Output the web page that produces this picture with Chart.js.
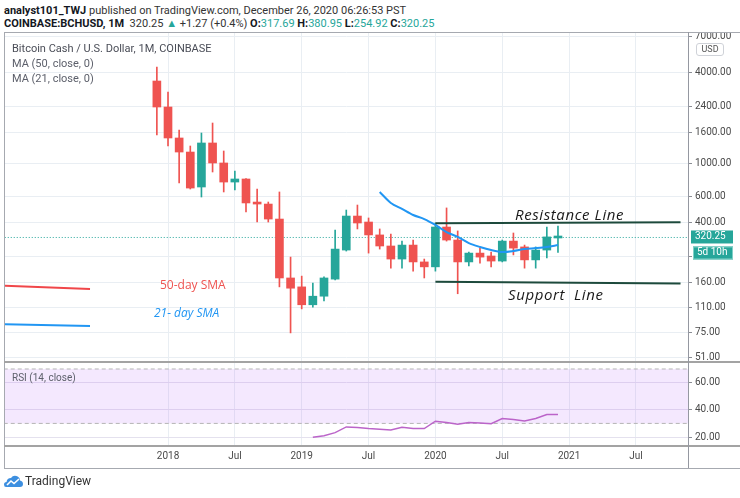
<!DOCTYPE html>
<html>
<head>
<meta charset="utf-8">
<script src="https://cdn.jsdelivr.net/npm/chart.js@4.4.1/dist/chart.umd.min.js"></script>
<style>
  body { margin: 0; width: 740px; height: 498px; background: #fff; position: relative; overflow: hidden;
         font-family: Roboto, "Noto Sans", sans-serif; color: #131722; }
  .abs { position: absolute; white-space: pre; }
  #hdr1 { left: 4px; top: 4px; font-size: 11px; line-height: 14px; color: #333; }
  #hdr2 { left: 4px; top: 17px; font-size: 11px; line-height: 14px; color: #333; }
  #hdr1 b, #hdr2 b { color: #131722; }
  .teal { color: #26a69a; }
  #frame { left: 4px; top: 32px; width: 740px; height: 435px; border: 1px solid #a6a9b0; box-sizing: content-box; }
  .sep { left: 4px; width: 740px; height: 2px; background: #a3a3a3; }
  #axisLine { left: 688px; top: 32px; width: 1px; height: 436px; background: #9598a1; }
  #usd { left: 696px; top: 43px; width: 26px; height: 11px; border: 1px solid #cfd2d8; border-radius: 3px;
         font-size: 9px; line-height: 11px; text-align: center; color: #555; background: #fff; }
  .legend { left: 12px; font-size: 11px; line-height: 14px; color: #5d606b; }
  .note { font-family: "Open Sans", sans-serif; }
  #logoTxt { left: 25px; top: 474px; font-size: 12px; line-height: 14px; color: #333; }
</style>
</head>
<body>
<div id="hdr1" class="abs"><b>analyst101_TWJ</b> published on TradingView.com, December 26, 2020 06:26:53 PST</div>
<div id="hdr2" class="abs"><b>COINBASE:BCHUSD, 1M</b>  320.25 <span class="teal">▲</span> +1.27 (+0.4%) <b>O:</b><span class="teal">317.69</span> <b>H:</b><span class="teal">380.95</span> <b>L:</b><span class="teal">254.92</span> <b>C:</b><span class="teal">320.25</span></div>

<div id="frame" class="abs"></div>
<canvas id="mainChart" class="abs" width="735" height="328" style="left:5px;top:33px"></canvas>
<canvas id="rsiChart" class="abs" width="735" height="105" style="left:5px;top:363px"></canvas>
<div class="abs sep" style="top:361px"></div>
<div class="abs sep" style="top:445px"></div>
<div id="axisLine" class="abs"></div>
<div id="usd" class="abs">USD</div>

<div class="abs legend" style="top:42px;color:#4a4d57">Bitcoin Cash / U.S. Dollar, 1M, COINBASE</div>
<div class="abs legend" style="top:57px">MA (50, close, 0)</div>
<div class="abs legend" style="top:72px">MA (21, close, 0)</div>
<div class="abs legend" style="top:371px;font-size:10px">RSI (14, close)</div>

<div class="abs note" style="left:160px;top:277px;font-size:12px;line-height:16px;color:#ef5350">50-day SMA</div>
<div class="abs note" style="left:154px;top:305px;font-size:12px;line-height:16px;color:#2196f3;font-style:italic">21- day SMA</div>
<div class="abs note" style="left:515px;top:205px;font-size:15px;line-height:18px;color:#1a1a1a;font-style:italic;letter-spacing:0.6px">Resistance Line</div>
<div class="abs note" style="left:508px;top:285px;font-size:15px;line-height:18px;color:#1a1a1a;font-style:italic;letter-spacing:0.6px">Support  Line</div>

<svg class="abs" style="left:4px;top:474px" width="19" height="14" viewBox="0 0 19 14">
  <path d="M2 13 Q0 13 0 10.5 Q0 8 2.5 8 Q3 4 7 4 Q9 1 12.5 2 Q16 3 16 6.5 Q19 7 19 10 Q19 13 16 13 Z" fill="#3d8fe0"/>
  <path d="M3 11 L7 7 L10 9.5 L15 5" fill="none" stroke="#fff" stroke-width="1.6"/>
</svg>
<div id="logoTxt" class="abs">TradingView</div>

<script>
// monthly candles
const months = ['2017-12','2018-01','2018-02','2018-03','2018-04','2018-05','2018-06','2018-07','2018-08','2018-09','2018-10','2018-11',
                '2018-12','2019-01','2019-02','2019-03','2019-04','2019-05','2019-06','2019-07','2019-08','2019-09','2019-10','2019-11',
                '2019-12','2020-01','2020-02','2020-03','2020-04','2020-05','2020-06','2020-07','2020-08','2020-09','2020-10','2020-11','2020-12'];
const opens  = [3537, 2373, 1475, 1189, 695, 1366, 1005, 750, 786, 544, 535, 425,
                172, 150, 114, 130, 169, 264, 445, 406, 333, 281, 230, 285,
                220, 204, 376, 308, 220, 252, 241, 223, 303, 277, 227, 264, 317.69];
const highs  = [4385, 2988, 1667, 1304, 1592, 1856, 1208, 889, 790, 674, 552, 644,
                237, 177, 159, 175, 359, 488, 527, 432, 365, 338, 303, 308,
                230, 400, 504, 354, 256, 272, 256, 308, 343, 285, 277, 376, 380.95];
const lows   = [1544, 1304, 739, 674, 596, 875, 644, 664, 474, 406, 406, 150,
                74, 107, 110, 121, 167, 260, 365, 252, 268, 200, 200, 191,
                172, 191, 303, 135, 207, 216, 204, 220, 245, 200, 200, 234, 254.92];
const closes = [2373, 1475, 1189, 684, 1366, 1005, 750, 786, 544, 535, 425, 172,
                147, 114, 130, 172, 268, 445, 400, 333, 281, 230, 285, 220,
                204, 376, 308, 220, 252, 237, 223, 303, 272, 227, 264, 323, 320.25];

// MA (21, close)
const ma21Months = ['2019-08','2019-09','2019-10','2019-11','2019-12','2020-01','2020-02','2020-03','2020-04',
                    '2020-05','2020-06','2020-07','2020-08','2020-09','2020-10','2020-11','2020-12'];
const ma21 = [644, 544, 496, 452, 425, 388, 348, 323, 294, 277, 264, 256, 260, 268, 272, 277, 285];

// RSI (14, close)
const rsiMonths = ['2019-02','2019-03','2019-04','2019-05','2019-06','2019-07','2019-08','2019-09','2019-10','2019-11','2019-12',
                   '2020-01','2020-02','2020-03','2020-04','2020-05','2020-06','2020-07','2020-08','2020-09','2020-10','2020-11','2020-12'];
const rsi = [19.8, 21, 23.2, 27.4, 26.9, 26.2, 25.7, 25.1, 27.1, 26.3, 26.2,
             31.6, 30.6, 29.4, 30.6, 30.3, 29.8, 33.6, 32.8, 31.8, 33.6, 36.5, 36.5];
const rsiBand = [30, 70];

// drawn lines (month, price)
const resistance = [['2020-01', 399], ['2021-11', 405]];
const support    = [['2020-01', 162], ['2021-11', 158]];
const sma50Key   = [['2016-10', 153], ['2017-06', 145]];
const sma21Key   = [['2016-10', 84.5], ['2017-06', 82.3]];
const lastClose = 320.25;
const countdown = '5d 10h';

// axes
const priceTicks = [51, 75, 110, 160, 240, 400, 600, 1000, 1600, 2400, 4000, 7000];
const rsiTicks = [20, 40, 60];
const xTickMonths = ['2018-01','2018-07','2019-01','2019-07','2020-01','2020-07','2021-01','2021-07'];
const xTickLabels = ['2018', 'Jul', '2019', 'Jul', '2020', 'Jul', '2021', 'Jul'];

const UP = '#26a69a', DOWN = '#ef5350';
const GRID = '#e9eef3';
const AXIS_TXT = '#4a4a4a';

const mIdx = s => { const [y, m] = s.split('-').map(Number); return (y - 2018) * 12 + (m - 1); };
const X_MIN = -14.63, X_MAX = 46.67;
const edges = ['2016-09', '2022-02'];

const candleColors = closes.map((c, i) => c >= opens[i] ? UP : DOWN);
const pts = arr => arr.map(([m, v]) => ({ x: mIdx(m), y: v }));

const fixWidth = w => scale => { scale.width = w; scale.paddingTop = 0; scale.paddingBottom = 0; };
const xTicks = scale => { scale.ticks = xTickMonths.map(m => ({ value: mIdx(m) })); };
const xLabel = v => xTickLabels[xTickMonths.map(mIdx).indexOf(v)];

// price tags on the axis
const lastTag = {
    id: 'lastTag',
    afterDraw(chart) {
        const ctx = chart.ctx;
        const y = chart.scales.y.getPixelForValue(lastClose);
        const r = chart.chartArea.right;
        ctx.save();
        ctx.fillStyle = UP;
        ctx.fillRect(r + 3, y - 7, 42, 13);
        ctx.fillRect(r + 5, y + 9, 40, 13);
        ctx.strokeStyle = '#7fd0c7';
        ctx.strokeRect(r + 5.5, y + 9.5, 39, 12);
        ctx.fillStyle = '#fff';
        ctx.font = '10px Roboto';
        ctx.textBaseline = 'middle';
        ctx.fillText(lastClose.toFixed(2), r + 7, y - 0.5);
        ctx.fillText(countdown, r + 9, y + 15.5);
        ctx.restore();
    }
};

Chart.defaults.font.family = 'Roboto, "Noto Sans", sans-serif';

new Chart(document.getElementById('mainChart'), {
    data: {
        datasets: [
            { type: 'line', data: pts(resistance), borderColor: '#1d4a3c', borderWidth: 2, pointRadius: 0 },
            { type: 'line', data: pts(support), borderColor: '#1d4a3c', borderWidth: 2, pointRadius: 0 },
            { type: 'line', data: ma21Months.map((m, i) => ({ x: mIdx(m), y: ma21[i] })),
              borderColor: '#2196f3', borderWidth: 2, pointRadius: 0, tension: 0.3 },
            { type: 'line', data: pts(sma50Key), borderColor: '#f0474a', borderWidth: 2, pointRadius: 0 },
            { type: 'line', data: pts(sma21Key), borderColor: '#2196f3', borderWidth: 2, pointRadius: 0 },
            { type: 'bar', data: months.map((m, i) => ({ x: mIdx(m), y: [opens[i], closes[i]] })),
              backgroundColor: candleColors, barThickness: 8, grouped: false, minBarLength: 2 },
            { type: 'bar', data: months.map((m, i) => ({ x: mIdx(m), y: [lows[i], highs[i]] })),
              backgroundColor: candleColors, barThickness: 1, grouped: false },
            { type: 'line', data: edges.map(m => ({ x: mIdx(m), y: lastClose })),
              borderColor: UP, borderWidth: 1, borderDash: [1, 2], pointRadius: 0 }
        ]
    },
    options: {
        responsive: false,
        animation: false,
        devicePixelRatio: 1,
        layout: { padding: 0 },
        plugins: { legend: { display: false }, tooltip: { enabled: false } },
        scales: {
            x: {
                type: 'linear', min: X_MIN, max: X_MAX, offset: false,
                afterBuildTicks: xTicks,
                afterFit: s => { s.height = 0; s.paddingLeft = 0; s.paddingRight = 0; },
                ticks: { display: false },
                grid: { color: GRID, drawTicks: false, offset: false },
                border: { display: false }
            },
            y: {
                type: 'logarithmic', position: 'right', min: 48.08, max: 7391,
                afterBuildTicks: s => { s.ticks = priceTicks.map(v => ({ value: v })); },
                afterFit: fixWidth(52),
                ticks: { autoSkip: false, padding: 3, color: AXIS_TXT, font: { size: 10 },
                         callback: v => Number(v).toFixed(2) },
                grid: { color: GRID, tickColor: '#8a8d94', tickLength: 4 },
                border: { display: false }
            }
        }
    },
    plugins: [lastTag]
});

new Chart(document.getElementById('rsiChart'), {
    type: 'line',
    data: {
        datasets: [
            { data: rsiMonths.map((m, i) => ({ x: mIdx(m), y: rsi[i] })),
              borderColor: '#bb64c9', borderWidth: 1.5, pointRadius: 0 },
            { data: edges.map(m => ({ x: mIdx(m), y: rsiBand[0] })),
              borderColor: '#b5b5b5', borderWidth: 1, borderDash: [4, 3], pointRadius: 0 },
            { data: edges.map(m => ({ x: mIdx(m), y: rsiBand[1] })),
              borderColor: '#b5b5b5', borderWidth: 1, borderDash: [4, 3], pointRadius: 0,
              fill: { value: rsiBand[0] }, backgroundColor: 'rgba(178, 102, 245, 0.15)' }
        ]
    },
    options: {
        responsive: false,
        animation: false,
        devicePixelRatio: 1,
        layout: { padding: 0 },
        plugins: { legend: { display: false }, tooltip: { enabled: false } },
        scales: {
            x: {
                type: 'linear', min: X_MIN, max: X_MAX,
                afterBuildTicks: xTicks,
                afterFit: s => { s.height = 23; s.paddingLeft = 0; s.paddingRight = 0; },
                ticks: { autoSkip: false, maxRotation: 0, padding: 5, color: AXIS_TXT, font: { size: 10 }, callback: xLabel },
                grid: { color: GRID, drawTicks: false },
                border: { display: false }
            },
            y: {
                position: 'right', min: 14.12, max: 74.41,
                afterBuildTicks: s => { s.ticks = rsiTicks.map(v => ({ value: v })); },
                afterFit: fixWidth(52),
                ticks: { autoSkip: false, padding: 3, color: AXIS_TXT, font: { size: 10 },
                         callback: v => Number(v).toFixed(2) },
                grid: { color: '#e4e1ee', tickColor: '#8a8d94', tickLength: 4 },
                border: { display: false }
            }
        }
    }
});
</script>
</body>
</html>
